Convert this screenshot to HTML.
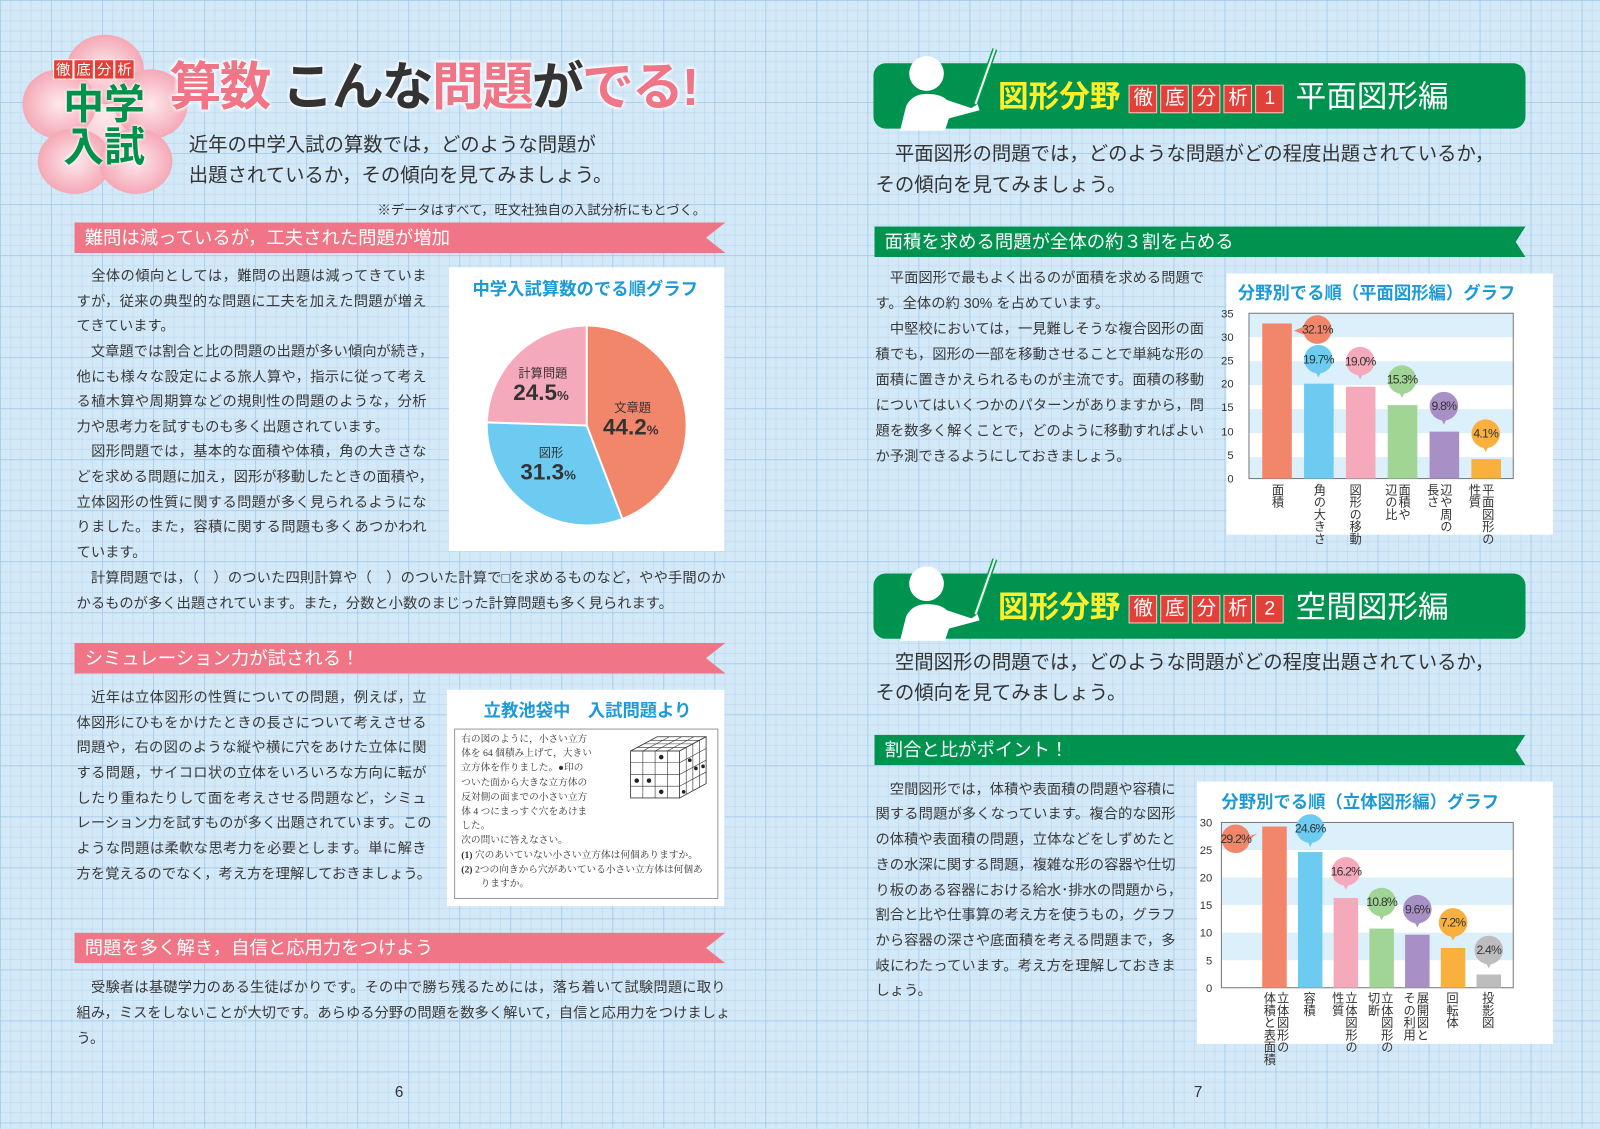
<!DOCTYPE html>
<html><head><meta charset="utf-8">
<style>
html,body{margin:0;padding:0;width:1600px;height:1129px;overflow:hidden;background:#d4e9f8;}
#pg{position:absolute;left:0;top:0;width:1568px;height:1106px;transform:scale(1.0204);transform-origin:0 0;
font-family:"Liberation Sans","Noto Sans CJK JP",sans-serif;color:#333;
background-color:#d4e9f8;
background-image:
linear-gradient(to right, rgba(150,195,230,.55) 1px, transparent 1px),
linear-gradient(to bottom, rgba(150,195,230,.55) 1px, transparent 1px),
linear-gradient(to right, rgba(185,215,238,.6) 1px, transparent 1px),
linear-gradient(to bottom, rgba(185,215,238,.6) 1px, transparent 1px);
background-size:50px 50px,50px 50px,10px 10px,10px 10px;}
.a{position:absolute;white-space:nowrap;}
.l{position:absolute;white-space:nowrap;font-size:14px;line-height:20px;color:#3a3a3a;}
.j{text-align:justify;text-align-last:justify;}
.pb{position:absolute;height:30px;background:#ef7587;color:#fff;font-size:18px;line-height:30px;padding-left:10px;box-sizing:border-box;
clip-path:polygon(0 0,100% 0,97% 50%,100% 100%,0 100%);}
.gb{position:absolute;height:30px;background:#009350;color:#fff;font-size:18px;line-height:30px;padding-left:10px;box-sizing:border-box;
clip-path:polygon(0 0,100% 0,98.5% 50%,100% 100%,0 100%);}
.box{position:absolute;background:#fff;}
.ct{position:absolute;color:#1c9ad6;font-size:17px;font-weight:bold;white-space:nowrap;}
.rb{display:inline-block;background:#e2413a;color:#fff;border:1px solid #f4c8c0;width:26px;height:26px;line-height:26px;text-align:center;font-size:19px;margin-right:3px;vertical-align:middle;}
.vt{position:absolute;writing-mode:vertical-rl;font-size:12px;line-height:13px;color:#333;}
</style></head><body><div id="pg">

<!-- Sakura badge -->
<svg class="a" style="left:18px;top:30px" width="170" height="165" viewBox="0 0 170 165">
<defs><radialGradient id="sk" cx="50%" cy="50%" r="55%"><stop offset="0" stop-color="#fde9ec"/><stop offset="1" stop-color="#f4a2b0"/></radialGradient></defs>
<g fill="url(#sk)">
<circle cx="85" cy="85" r="58"/>
<ellipse cx="85" cy="38" rx="38" ry="34"/>
<ellipse cx="40" cy="72" rx="36" ry="34"/>
<ellipse cx="130" cy="72" rx="36" ry="34"/>
<ellipse cx="55" cy="128" rx="36" ry="32"/>
<ellipse cx="115" cy="128" rx="36" ry="32"/>
</g></svg>
<div class="a" style="left:52px;top:58px;font-size:14px;color:#fff;">
<span style="background:#e2413a;padding:1px 2px;border:1px solid #fff">徹</span><span style="background:#e2413a;padding:1px 2px;border:1px solid #fff">底</span><span style="background:#e2413a;padding:1px 2px;border:1px solid #fff">分</span><span style="background:#e2413a;padding:1px 2px;border:1px solid #fff">析</span></div>
<div class="a" style="left:62px;top:82px;font-size:40px;line-height:42px;font-weight:bold;color:#00914a;text-shadow:0 0 3px #fff,0 0 3px #fff;">中学<br>入試</div>

<div class="a" style="left:166px;top:54px;font-size:51px;letter-spacing:-2px;line-height:64px;font-weight:bold;color:#ef7587;text-shadow:0 0 4px #fff,0 0 4px #fff,0 0 4px #fff;">算数 <span style="color:#333">こんな</span>問題<span style="color:#333">が</span>でる!</div>
<div class="a" style="left:185px;top:128px;font-size:19px;line-height:30px;color:#333;">近年の中学入試の算数では，どのような問題が<br>出題されているか，その傾向を見てみましょう。</div>
<div class="a" style="left:370px;top:195px;font-size:13px;color:#333;">※データはすべて，旺文社独自の入試分析にもとづく。</div>

<div class="pb" style="left:73px;top:218px;width:638px;">難問は減っているが，工夫された問題が増加</div>

<div class="l j" style="left:75px;top:260px;width:343px">　全体の傾向としては，難問の出題は減ってきていま</div>
<div class="l j" style="left:75px;top:285px;width:343px">すが，従来の典型的な問題に工夫を加えた問題が増え</div>
<div class="l" style="left:75px;top:309px;">てきています。</div>
<div class="l j" style="left:75px;top:334px;width:343px">　文章題では割合と比の問題の出題が多い傾向が続き，</div>
<div class="l j" style="left:75px;top:359px;width:343px">他にも様々な設定による旅人算や，指示に従って考え</div>
<div class="l j" style="left:75px;top:383px;width:343px">る植木算や周期算などの規則性の問題のような，分析</div>
<div class="l" style="left:75px;top:408px;">力や思考力を試すものも多く出題されています。</div>
<div class="l j" style="left:75px;top:432px;width:343px">　図形問題では，基本的な面積や体積，角の大きさな</div>
<div class="l j" style="left:75px;top:457px;width:343px">どを求める問題に加え，図形が移動したときの面積や，</div>
<div class="l j" style="left:75px;top:482px;width:343px">立体図形の性質に関する問題が多く見られるようにな</div>
<div class="l j" style="left:75px;top:506px;width:343px">りました。また，容積に関する問題も多くあつかわれ</div>
<div class="l" style="left:75px;top:531px;">ています。</div>
<div class="l j" style="left:75px;top:556px;width:636px">　計算問題では，（　）のついた四則計算や（　）のついた計算で□を求めるものなど，やや手間のか</div>
<div class="l" style="left:75px;top:581px;">かるものが多く出題されています。また，分数と小数のまじった計算問題も多く見られます。</div>

<!-- Pie box -->
<div class="box" style="left:440px;top:262px;width:270px;height:278px;"></div>
<div class="ct" style="left:463px;top:269px;">中学入試算数のでる順グラフ</div>
<svg class="a" style="left:0;top:0" width="720" height="560">
<path d="M575,417 L575,320 A97,97 0 0 1 609.6,507.6 Z" fill="#f2866a"/>
<path d="M575,417 L609.6,507.6 A97,97 0 0 1 478.05,414 Z" fill="#6dcbf2"/>
<path d="M575,417 L478.05,414 A97,97 0 0 1 575,320 Z" fill="#f5aabb"/>
<g stroke="#fff" stroke-width="2"><line x1="575" y1="417" x2="575" y2="320"/><line x1="575" y1="417" x2="609.6" y2="507.6"/><line x1="575" y1="417" x2="478" y2="414"/></g>
</svg>
<div class="a" style="left:602px;top:391px;font-size:12px;color:#333;">文章題</div>
<div class="a" style="left:591px;top:406px;font-size:22px;font-weight:bold;color:#333;">44.2<span style="font-size:13px">%</span></div>
<div class="a" style="left:528px;top:435px;font-size:12px;color:#333;">図形</div>
<div class="a" style="left:510px;top:450px;font-size:22px;font-weight:bold;color:#333;">31.3<span style="font-size:13px">%</span></div>
<div class="a" style="left:508px;top:357px;font-size:12px;color:#333;">計算問題</div>
<div class="a" style="left:503px;top:372px;font-size:22px;font-weight:bold;color:#333;">24.5<span style="font-size:13px">%</span></div>

<div class="pb" style="left:73px;top:630px;width:638px;">シミュレーション力が試される！</div>
<div class="l j" style="left:75px;top:673px;width:343px">　近年は立体図形の性質についての問題，例えば，立</div>
<div class="l j" style="left:75px;top:698px;width:343px">体図形にひもをかけたときの長さについて考えさせる</div>
<div class="l j" style="left:75px;top:722px;width:343px">問題や，右の図のような縦や横に穴をあけた立体に関</div>
<div class="l j" style="left:75px;top:747px;width:343px">する問題，サイコロ状の立体をいろいろな方向に転が</div>
<div class="l j" style="left:75px;top:772px;width:343px">したり重ねたりして面を考えさせる問題など，シミュ</div>
<div class="l j" style="left:75px;top:796px;width:343px">レーション力を試すものが多く出題されています。この</div>
<div class="l j" style="left:75px;top:821px;width:343px">ような問題は柔軟な思考力を必要とします。単に解き</div>
<div class="l" style="left:75px;top:846px;">方を覚えるのでなく，考え方を理解しておきましょう。</div>

<div class="box" style="left:438px;top:676px;width:272px;height:212px;"></div>
<div class="ct" style="left:474px;top:682px;">立教池袋中　入試問題より</div>
<div class="a" style="left:445px;top:714px;width:259px;height:167px;border:1px solid #999;box-sizing:border-box;"></div>
<div class="a" style="left:452px;top:718px;font-family:'Liberation Serif','Noto Serif CJK SC',serif;font-size:9.5px;line-height:14.2px;color:#333;">右の図のように，小さい立方<br>体を 64 個積み上げて，大きい<br>立方体を作りました。●印の<br>ついた面から大きな立方体の<br>反対側の面までの小さい立方<br>体 4 つにまっすぐ穴をあけま<br>した。<br>次の問いに答えなさい。<br><b>(1)</b>  穴のあいていない小さい立方体は何個ありますか。<br><b>(2)</b>  2つの向きから穴があいている小さい立方体は何個あ<br>　　りますか。</div>
<svg class="a" style="left:612px;top:718px" width="90" height="72" viewBox="0 0 90 72">
<g fill="#fff" stroke="#333" stroke-width="0.8">
<polygon points="6,18 54,18 80,4 32,4"/><polygon points="54,18 80,4 80,50 54,64"/><rect x="6" y="18" width="48" height="46"/></g>
<g stroke="#333" stroke-width="0.6">
<line x1="18" y1="18" x2="18" y2="64"/><line x1="30" y1="18" x2="30" y2="64"/><line x1="42" y1="18" x2="42" y2="64"/>
<line x1="6" y1="29.5" x2="54" y2="29.5"/><line x1="6" y1="41" x2="54" y2="41"/><line x1="6" y1="52.5" x2="54" y2="52.5"/>
<line x1="60.5" y1="14.5" x2="60.5" y2="60.5"/><line x1="67" y1="11" x2="67" y2="57"/><line x1="73.5" y1="7.5" x2="73.5" y2="53.5"/>
<line x1="54" y1="29.5" x2="80" y2="15.5"/><line x1="54" y1="41" x2="80" y2="27"/><line x1="54" y1="52.5" x2="80" y2="38.5"/>
<line x1="18" y1="18" x2="44" y2="4"/><line x1="30" y1="18" x2="56" y2="4"/><line x1="42" y1="18" x2="68" y2="4"/>
<line x1="12.5" y1="14.5" x2="60.5" y2="14.5"/><line x1="19" y1="11" x2="67" y2="11"/><line x1="25.5" y1="7.5" x2="73.5" y2="7.5"/></g>
<g fill="#222"><circle cx="36" cy="24" r="2.2"/><circle cx="12" cy="47" r="2.2"/><circle cx="24" cy="47" r="2.2"/><circle cx="36" cy="58" r="2.2"/>
<circle cx="64" cy="27" r="1.8"/><circle cx="70" cy="35" r="1.8"/><circle cx="77" cy="33" r="1.8"/><circle cx="58" cy="58" r="1.8"/></g></svg>

<div class="pb" style="left:73px;top:914px;width:638px;">問題を多く解き，自信と応用力をつけよう</div>
<div class="l j" style="left:75px;top:957px;width:636px">　受験者は基礎学力のある生徒ばかりです。その中で勝ち残るためには，落ち着いて試験問題に取り</div>
<div class="l j" style="left:75px;top:982px;width:636px">組み，ミスをしないことが大切です。あらゆる分野の問題を数多く解いて，自信と応用力をつけましょ</div>
<div class="l" style="left:75px;top:1007px;">う。</div>

<div class="a" style="left:387px;top:1062px;font-size:15px;color:#333;">6</div>
<div class="a" style="left:1170px;top:1062px;font-size:15px;color:#333;">7</div>

<!-- RIGHT PAGE header 1 -->
<div class="a" style="left:856px;top:62px;width:639px;height:64px;background:#009350;border-radius:12px;"></div>
<svg class="a" style="left:860px;top:42px" width="130" height="90" viewBox="0 0 130 90">
<line x1="115" y1="6" x2="96" y2="60" stroke="#00a04f" stroke-width="5"/><line x1="115" y1="6" x2="96" y2="60" stroke="#fff" stroke-width="2"/>
<g fill="#fff"><circle cx="48" cy="30" r="17"/><path d="M22,86 L28,62 Q34,50 48,50 Q62,50 68,56 L92,64 L98,60 L100,66 L70,74 L66,86 Z"/></g></svg>
<div class="a" style="left:978px;top:76px;font-size:30px;line-height:40px;color:#fff;">
<span style="color:#ffef2a;font-weight:bold;">図形分野</span> <span class="rb">徹</span><span class="rb">底</span><span class="rb">分</span><span class="rb">析</span><span class="rb">1</span> 平面図形編</div>
<div class="a" style="left:858px;top:137px;font-size:19px;line-height:30px;color:#333;">　平面図形の問題では，どのような問題がどの程度出題されているか，<br>その傾向を見てみましょう。</div>

<div class="gb" style="left:857px;top:222px;width:638px;">面積を求める問題が全体の約３割を占める</div>
<div class="l j" style="left:858px;top:262px;width:322px">　平面図形で最もよく出るのが面積を求める問題で</div>
<div class="l" style="left:858px;top:287px;">す。全体の約 30% を占めています。</div>
<div class="l j" style="left:858px;top:312px;width:322px">　中堅校においては，一見難しそうな複合図形の面</div>
<div class="l j" style="left:858px;top:337px;width:322px">積でも，図形の一部を移動させることで単純な形の</div>
<div class="l j" style="left:858px;top:362px;width:322px">面積に置きかえられるものが主流です。面積の移動</div>
<div class="l j" style="left:858px;top:387px;width:322px">についてはいくつかのパターンがありますから，問</div>
<div class="l j" style="left:858px;top:412px;width:322px">題を数多く解くことで，どのように移動すればよい</div>
<div class="l" style="left:858px;top:437px;">か予測できるようにしておきましょう。</div>

<!-- Chart 1 -->
<div class="box" style="left:1202px;top:268px;width:320px;height:256px;"></div>
<div class="ct" style="left:1213px;top:273px;">分野別でる順（平面図形編）グラフ</div>
<svg class="a" style="left:1180px;top:290px" width="340" height="190">
<g fill="#dcf0fb"><rect x="44" y="17" width="259" height="23.5"/><rect x="44" y="64" width="259" height="23.5"/><rect x="44" y="111" width="259" height="23.5"/><rect x="44" y="158" width="259" height="21"/></g>
<rect x="44" y="17" width="259" height="162" fill="none" stroke="#777" stroke-width="1"/>
<g font-family="Liberation Sans,sans-serif" font-size="11" fill="#333" text-anchor="end">
<text x="29" y="21">35</text><text x="29" y="44">30</text><text x="29" y="67">25</text><text x="29" y="90">20</text><text x="29" y="113">15</text><text x="29" y="137">10</text><text x="29" y="160">5</text><text x="29" y="183">0</text></g>
<g>
<rect x="57" y="27" width="29" height="152" fill="#f2866a"/>
<rect x="98" y="86" width="29" height="93" fill="#6dcbf2"/>
<rect x="139" y="89" width="29" height="90" fill="#f5aabb"/>
<rect x="180" y="107" width="29" height="72" fill="#a0d595"/>
<rect x="221" y="133" width="29" height="46" fill="#a88fc6"/>
<rect x="262" y="160" width="29" height="19" fill="#f9b03d"/>
</g>
<g font-family="Liberation Sans,sans-serif" font-size="12" letter-spacing="-0.8" fill="#333" text-anchor="middle">
<path d="M88,34 L98,30 L98,38 Z" fill="#f2866a"/><circle cx="111" cy="33" r="14" fill="#f2866a"/><text x="111" y="37">32.1%</text>
<path d="M108,72 L112,80 L116,72 Z" fill="#6dcbf2"/><circle cx="112" cy="62" r="14" fill="#6dcbf2"/><text x="112" y="66">19.7%</text>
<path d="M149,74 L153,82 L157,74 Z" fill="#f5aabb"/><circle cx="153" cy="64" r="14" fill="#f5aabb"/><text x="153" y="68">19.0%</text>
<path d="M190,92 L194,100 L198,92 Z" fill="#a0d595"/><circle cx="194" cy="82" r="14" fill="#a0d595"/><text x="194" y="86">15.3%</text>
<path d="M231,118 L235,126 L239,118 Z" fill="#a88fc6"/><circle cx="235" cy="108" r="14" fill="#a88fc6"/><text x="235" y="112">9.8%</text>
<path d="M272,145 L276,153 L280,145 Z" fill="#f9b03d"/><circle cx="276" cy="135" r="14" fill="#f9b03d"/><text x="276" y="139">4.1%</text>
</g></svg>
<div class="vt" style="left:1245px;top:474px;">面積</div>
<div class="vt" style="left:1286px;top:474px;">角の大きさ</div>
<div class="vt" style="left:1321px;top:474px;">図形の移動</div>
<div class="vt" style="left:1356px;top:474px;">面積や<br>辺の比</div>
<div class="vt" style="left:1397px;top:474px;">辺や周の<br>長さ</div>
<div class="vt" style="left:1438px;top:474px;">平面図形の<br>性質</div>

<!-- RIGHT header 2 -->
<div class="a" style="left:856px;top:562px;width:639px;height:64px;background:#009350;border-radius:12px;"></div>
<svg class="a" style="left:860px;top:542px" width="130" height="90" viewBox="0 0 130 90">
<line x1="115" y1="6" x2="96" y2="60" stroke="#00a04f" stroke-width="5"/><line x1="115" y1="6" x2="96" y2="60" stroke="#fff" stroke-width="2"/>
<g fill="#fff"><circle cx="48" cy="30" r="17"/><path d="M22,86 L28,62 Q34,50 48,50 Q62,50 68,56 L92,64 L98,60 L100,66 L70,74 L66,86 Z"/></g></svg>
<div class="a" style="left:978px;top:576px;font-size:30px;line-height:40px;color:#fff;">
<span style="color:#ffef2a;font-weight:bold;">図形分野</span> <span class="rb">徹</span><span class="rb">底</span><span class="rb">分</span><span class="rb">析</span><span class="rb">2</span> 空間図形編</div>
<div class="a" style="left:858px;top:635px;font-size:19px;line-height:30px;color:#333;">　空間図形の問題では，どのような問題がどの程度出題されているか，<br>その傾向を見てみましょう。</div>

<div class="gb" style="left:857px;top:720px;width:638px;">割合と比がポイント！</div>
<div class="l j" style="left:858px;top:763px;width:294px">　空間図形では，体積や表面積の問題や容積に</div>
<div class="l j" style="left:858px;top:787px;width:294px">関する問題が多くなっています。複合的な図形</div>
<div class="l j" style="left:858px;top:812px;width:294px">の体積や表面積の問題，立体などをしずめたと</div>
<div class="l j" style="left:858px;top:837px;width:294px">きの水深に関する問題，複雑な形の容器や仕切</div>
<div class="l j" style="left:858px;top:862px;width:294px">り板のある容器における給水･排水の問題から，</div>
<div class="l j" style="left:858px;top:886px;width:294px">割合と比や仕事算の考え方を使うもの，グラフ</div>
<div class="l j" style="left:858px;top:911px;width:294px">から容器の深さや底面積を考える問題まで，多</div>
<div class="l j" style="left:858px;top:936px;width:294px">岐にわたっています。考え方を理解しておきま</div>
<div class="l" style="left:858px;top:960px;">しょう。</div>

<!-- Chart 2 -->
<div class="box" style="left:1173px;top:766px;width:349px;height:257px;"></div>
<div class="ct" style="left:1197px;top:772px;">分野別でる順（立体図形編）グラフ</div>
<svg class="a" style="left:1170px;top:790px" width="350" height="185">
<g fill="#dcf0fb"><rect x="27" y="16" width="286" height="27"/><rect x="27" y="70" width="286" height="27"/><rect x="27" y="124" width="286" height="27"/></g>
<rect x="27" y="16" width="286" height="162" fill="none" stroke="#777" stroke-width="1"/>
<g font-family="Liberation Sans,sans-serif" font-size="11" fill="#333" text-anchor="end">
<text x="18" y="20">30</text><text x="18" y="47">25</text><text x="18" y="74">20</text><text x="18" y="101">15</text><text x="18" y="128">10</text><text x="18" y="155">5</text><text x="18" y="182">0</text></g>
<rect x="67" y="20" width="24" height="158" fill="#f2866a"/>
<rect x="102" y="45" width="24" height="133" fill="#6dcbf2"/>
<rect x="137" y="90" width="24" height="88" fill="#f5aabb"/>
<rect x="172" y="120" width="24" height="58" fill="#a0d595"/>
<rect x="207" y="126" width="24" height="52" fill="#a88fc6"/>
<rect x="242" y="139" width="24" height="39" fill="#f9b03d"/>
<rect x="277" y="165" width="24" height="13" fill="#bdbdbd"/>
<g font-family="Liberation Sans,sans-serif" font-size="12" letter-spacing="-0.8" fill="#333" text-anchor="middle">
<path d="M52,30 L62,27 L52,35 Z" fill="#f2866a"/><circle cx="41" cy="32" r="14" fill="#f2866a"/><text x="41" y="36">29.2%</text>
<path d="M110,32 L114,40 L118,32 Z" fill="#6dcbf2"/><circle cx="114" cy="22" r="14" fill="#6dcbf2"/><text x="114" y="26">24.6%</text>
<path d="M145,74 L149,82 L153,74 Z" fill="#f5aabb"/><circle cx="149" cy="64" r="14" fill="#f5aabb"/><text x="149" y="68">16.2%</text>
<path d="M180,104 L184,112 L188,104 Z" fill="#a0d595"/><circle cx="184" cy="94" r="14" fill="#a0d595"/><text x="184" y="98">10.8%</text>
<path d="M215,111 L219,119 L223,111 Z" fill="#a88fc6"/><circle cx="219" cy="101" r="14" fill="#a88fc6"/><text x="219" y="105">9.6%</text>
<path d="M250,124 L254,132 L258,124 Z" fill="#f9b03d"/><circle cx="254" cy="114" r="14" fill="#f9b03d"/><text x="254" y="118">7.2%</text>
<path d="M285,151 L289,159 L293,151 Z" fill="#bdbdbd"/><circle cx="289" cy="141" r="14" fill="#bdbdbd"/><text x="289" y="145">2.4%</text>
</g></svg>
<div class="vt" style="left:1237px;top:972px;">立体図形の<br>体積と表面積</div>
<div class="vt" style="left:1276px;top:972px;">容積</div>
<div class="vt" style="left:1304px;top:972px;">立体図形の<br>性質</div>
<div class="vt" style="left:1339px;top:972px;">立体図形の<br>切断</div>
<div class="vt" style="left:1374px;top:972px;">展開図と<br>その利用</div>
<div class="vt" style="left:1416px;top:972px;">回転体</div>
<div class="vt" style="left:1451px;top:972px;">投影図</div>

</div></body></html>
